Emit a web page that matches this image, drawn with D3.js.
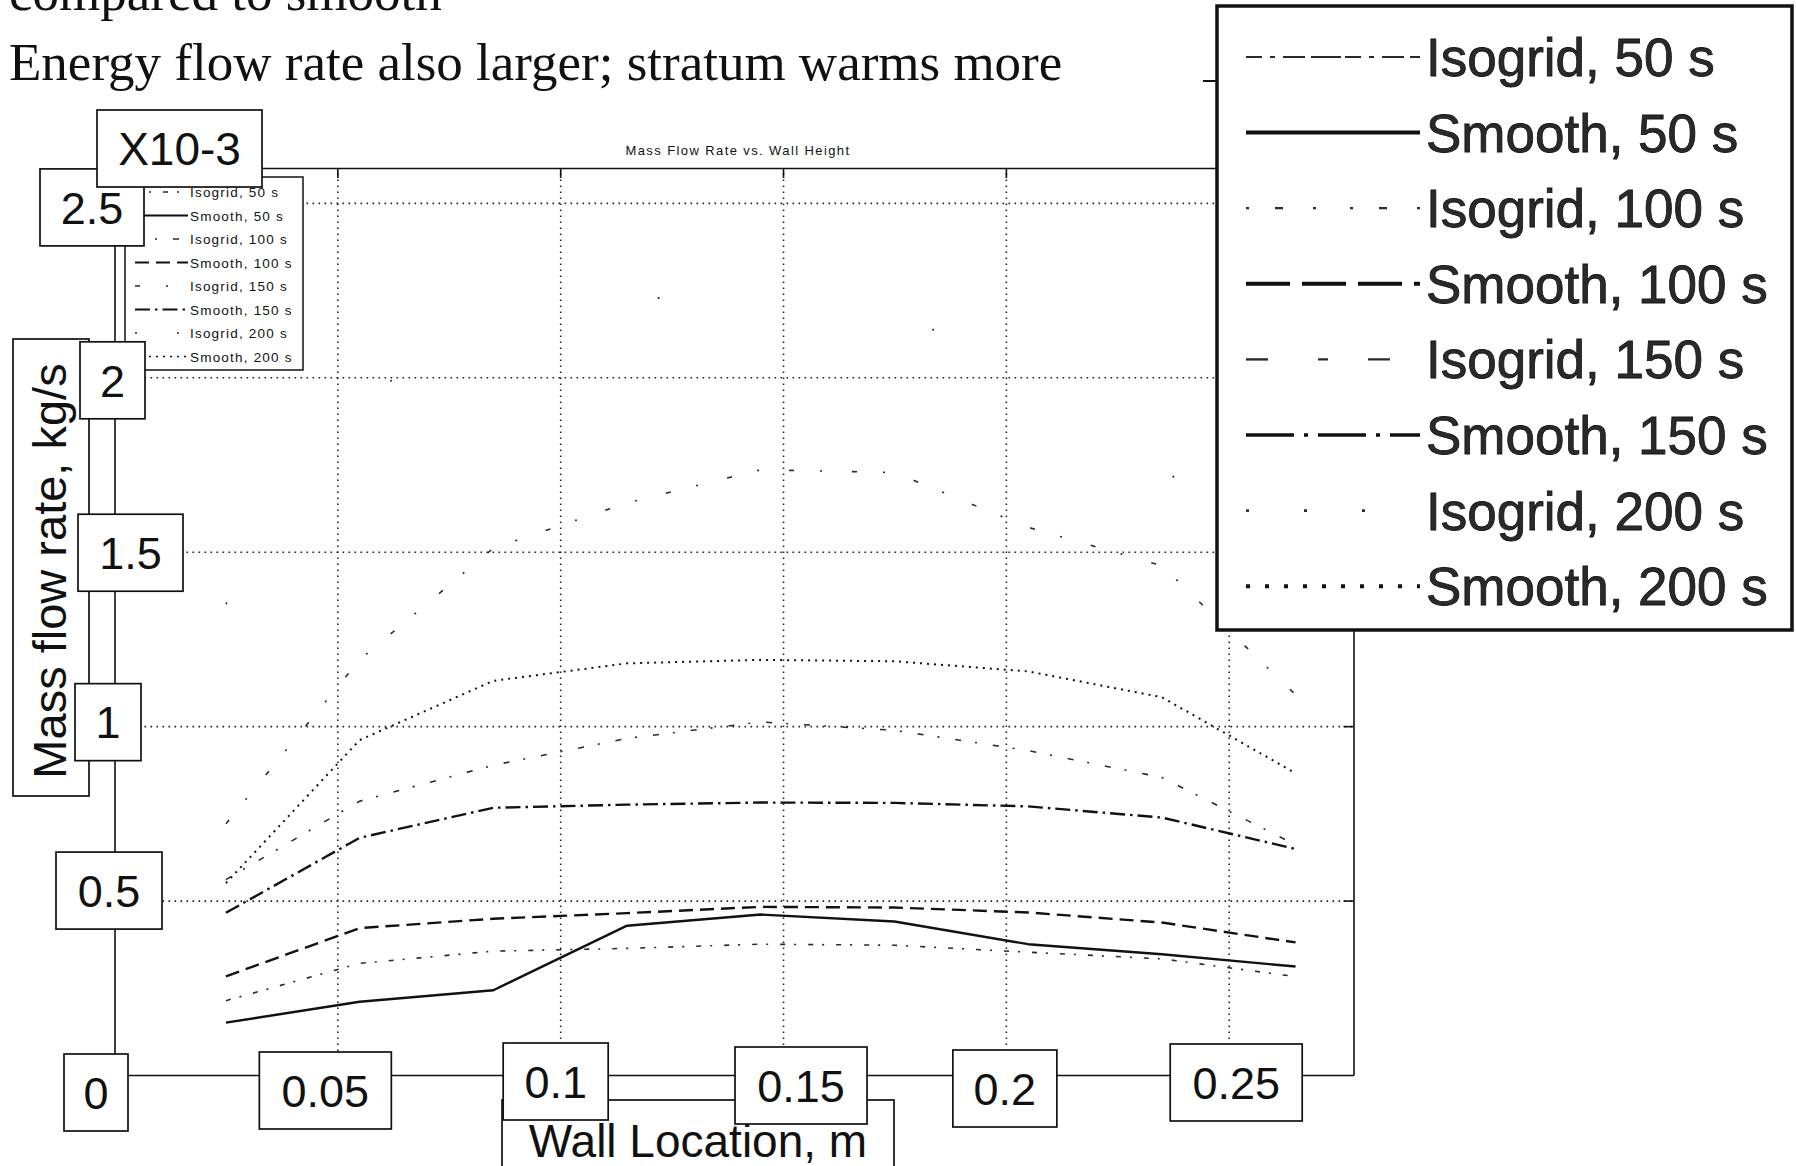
<!DOCTYPE html>
<html>
<head>
<meta charset="utf-8">
<script src="https://cdn.jsdelivr.net/npm/d3@7"></script>
<style>
  html, body { margin: 0; padding: 0; background: #fff; }
  svg { display: block; }
</style>
</head>
<body>
<svg id="chart" width="1796" height="1166"></svg>
<script>
// ---- data -------------------------------------------------------------
const wallLocation = [0.025, 0.055, 0.085, 0.115, 0.145, 0.175, 0.205, 0.235, 0.265];

const isogrid50  = [0.213, 0.320, 0.355, 0.363, 0.375, 0.372, 0.352, 0.333, 0.282];
const smooth50   = [0.150, 0.210, 0.243, 0.428, 0.460, 0.440, 0.375, 0.346, 0.311];
const isogrid100 = [0.560, 0.785, 0.888, 0.965, 1.012, 0.988, 0.930, 0.853, 0.660];
const smooth100  = [0.283, 0.421, 0.448, 0.464, 0.482, 0.480, 0.466, 0.437, 0.380];
const isogrid150 = [0.720, 1.190, 1.510, 1.640, 1.735, 1.727, 1.570, 1.460, 1.090];
const smooth150  = [0.465, 0.680, 0.766, 0.775, 0.781, 0.780, 0.770, 0.738, 0.648];
const isogrid200 = [1.350, 1.950, 2.120, 2.220, 2.250, 2.200, 1.980, 1.740, 1.450];
const smooth200  = [0.550, 0.960, 1.130, 1.180, 1.190, 1.186, 1.157, 1.083, 0.865];

const seriesNames = [
  "Isogrid, 50 s", "Smooth, 50 s", "Isogrid, 100 s", "Smooth, 100 s",
  "Isogrid, 150 s", "Smooth, 150 s", "Isogrid, 200 s", "Smooth, 200 s"
];
const seriesValues = [isogrid50, smooth50, isogrid100, smooth100,
                      isogrid150, smooth150, isogrid200, smooth200];

const xTicks = [0, 0.05, 0.1, 0.15, 0.2, 0.25];
const xTickLabels = ["0", "0.05", "0.1", "0.15", "0.2", "0.25"];
const yTicks = [0.5, 1, 1.5, 2, 2.5];
const yTickLabels = ["0.5", "1", "1.5", "2", "2.5"];
const yExponentLabel = "X10-3";

const titleText = "Mass Flow Rate vs. Wall Height";
const xTitle = "Wall Location, m";
const yTitle = "Mass flow rate, kg/s";
const headerLines = ["compared to smooth", "Energy flow rate also larger; stratum warms more"];

// ---- styles per series (plot stroke, legend stroke) -------------------
const seriesStyle = {
  "Isogrid, 50 s":  { w: 1.6, c: "#2a2a2a", dash: "5,9,2,12",   lw: 2.2, ldash: "16,8,5,8,22,6,30,4" },
  "Smooth, 50 s":   { w: 2.4, c: "#111",    dash: null,         lw: 4.0, ldash: null },
  "Isogrid, 100 s": { w: 1.6, c: "#2a2a2a", dash: "6,14,2,16",  lw: 2.2, ldash: "3,26,8,30,3,34" },
  "Smooth, 100 s":  { w: 2.4, c: "#111",    dash: "14,7",       lw: 4.0, ldash: "44,12" },
  "Isogrid, 150 s": { w: 1.6, c: "#2a2a2a", dash: "5,26,2,30",  lw: 2.4, ldash: "22,50,10,40" },
  "Smooth, 150 s":  { w: 2.4, c: "#111",    dash: "15,5,2.5,5", lw: 3.6, ldash: "48,10,4,10" },
  "Isogrid, 200 s": { w: 1.8, c: "#2a2a2a", dash: "1.8,280",    lw: 2.6, ldash: "3,55" },
  "Smooth, 200 s":  { w: 2.0, c: "#111",    dash: "2,5",        lw: 4.0, ldash: "4,15" }
};

const svg = d3.select("#chart");
const sans = "'Liberation Sans', Arial, sans-serif";
const serif = "'Liberation Serif', 'Times New Roman', serif";

// ---- scales -----------------------------------------------------------
const x = d3.scaleLinear().domain([0, 0.278]).range([114.5, 1353.5]);
const y = d3.scaleLinear().domain([0, 2.6]).range([1075, 168]);

// ---- header text ------------------------------------------------------
svg.append("text").attr("x", 9).attr("y", 10)
  .attr("font-family", serif).attr("font-size", 53).attr("fill", "#111")
  .text(headerLines[0]);
svg.append("text").attr("x", 9).attr("y", 80)
  .attr("font-family", serif).attr("font-size", 53).attr("fill", "#111")
  .text(headerLines[1]);

// ---- grid -------------------------------------------------------------
const gridStyle = sel => sel.selectAll("line")
  .attr("stroke", "#222").attr("stroke-width", 1.6).attr("stroke-dasharray", "1.6,4.4");

svg.append("g")
  .attr("transform", `translate(0,${y(0)})`)
  .call(d3.axisBottom(x).tickValues(xTicks.filter(v => v > 0))
    .tickSize(-(y(0) - y(2.6))).tickFormat(""))
  .call(g => g.select(".domain").remove())
  .call(gridStyle);

svg.append("g")
  .attr("transform", `translate(${x(0)},0)`)
  .call(d3.axisLeft(y).tickValues(yTicks)
    .tickSize(-(x(0.278) - x(0))).tickFormat(""))
  .call(g => g.select(".domain").remove())
  .call(gridStyle);

// ---- series -----------------------------------------------------------
const line = d3.line()
  .x((d, i) => x(wallLocation[i]))
  .y(d => y(d));

seriesNames.forEach((name, k) => {
  const s = seriesStyle[name];
  svg.append("path")
    .datum(seriesValues[k])
    .attr("d", line)
    .attr("fill", "none")
    .attr("stroke", s.c)
    .attr("stroke-width", s.w)
    .attr("stroke-dasharray", s.dash)
    .attr("stroke-linejoin", "round");
});

// ---- axes frame with inward ticks ------------------------------------
const frame = (axis, tx, ty) => svg.append("g")
  .attr("transform", `translate(${tx},${ty})`)
  .call(axis.tickSizeInner(-10).tickSizeOuter(0).tickFormat(""))
  .call(g => g.selectAll("path,line").attr("stroke", "#111").attr("stroke-width", 1.6));

frame(d3.axisBottom(x).tickValues(xTicks), 0, y(0));
frame(d3.axisTop(x).tickValues(xTicks), 0, y(2.6));
frame(d3.axisLeft(y).tickValues(yTicks), x(0), 0);
frame(d3.axisRight(y).tickValues(yTicks), x(0.278), 0);

// ---- plot title -------------------------------------------------------
svg.append("text")
  .attr("x", 738).attr("y", 155)
  .attr("text-anchor", "middle")
  .attr("font-family", sans).attr("font-size", 13).attr("letter-spacing", 1.4)
  .attr("fill", "#111")
  .text(titleText);

// ---- small in-plot legend --------------------------------------------
const smallLeg = svg.append("g");
smallLeg.append("rect")
  .attr("x", 125).attr("y", 177).attr("width", 178).attr("height", 193)
  .attr("fill", "#fff").attr("stroke", "#111").attr("stroke-width", 1.5);
seriesNames.forEach((name, k) => {
  const s = seriesStyle[name];
  const cy = 192 + k * 23.5;
  smallLeg.append("line")
    .attr("x1", 135).attr("x2", 188).attr("y1", cy).attr("y2", cy)
    .attr("stroke", s.c).attr("stroke-width", s.w * 0.8)
    .attr("stroke-dasharray", name === "Isogrid, 200 s" ? "2,40" : s.dash);
  smallLeg.append("text")
    .attr("x", 190).attr("y", cy + 5)
    .attr("font-family", sans).attr("font-size", 13.5).attr("letter-spacing", 1.2)
    .attr("fill", "#111")
    .text(name);
});

// ---- boxed labels -----------------------------------------------------
function labelBox(x0, y0, w, h, txt, size) {
  svg.append("rect")
    .attr("x", x0).attr("y", y0).attr("width", w).attr("height", h)
    .attr("fill", "#fff").attr("stroke", "#111").attr("stroke-width", 1.7);
  svg.append("text")
    .attr("x", x0 + w / 2).attr("y", y0 + h / 2 + size * 0.36)
    .attr("text-anchor", "middle")
    .attr("font-family", sans).attr("font-size", size).attr("fill", "#111")
    .text(txt);
}

// y-axis title box
svg.append("rect")
  .attr("x", 13).attr("y", 339).attr("width", 76).attr("height", 457)
  .attr("fill", "#fff").attr("stroke", "#111").attr("stroke-width", 1.7);
svg.append("text")
  .attr("transform", "translate(66,571) rotate(-90)")
  .attr("text-anchor", "middle")
  .attr("font-family", sans).attr("font-size", 47).attr("fill", "#111")
  .text(yTitle);

// x-axis title box (runs off the bottom edge)
svg.append("rect")
  .attr("x", 502).attr("y", 1100).attr("width", 392).attr("height", 90)
  .attr("fill", "#fff").attr("stroke", "#111").attr("stroke-width", 1.7);
svg.append("text")
  .attr("x", 698).attr("y", 1157)
  .attr("text-anchor", "middle")
  .attr("font-family", sans).attr("font-size", 46).attr("fill", "#111")
  .text(xTitle);

// y tick label boxes: [left, right, vertical offset of centre]
const yBoxLayout = [
  [56, 162, -10], [75, 141, -4], [78, 183, 1], [80, 145, 3], [40, 144, 4.5]
];
yTicks.forEach((v, i) => {
  const [l, r, dy] = yBoxLayout[i];
  const cy = y(v) + dy;
  labelBox(l, cy - 38.5, r - l, 77, yTickLabels[i], 45);
});

// exponent box
labelBox(97, 110, 165, 77, yExponentLabel, 46);

// x tick label boxes: [horizontal offset of centre, top, width]
const xBoxLayout = [
  [-18.5, 1054, 64], [-12, 1052, 132], [-4.5, 1043, 105],
  [18, 1047, 132], [-1, 1050, 104], [7.5, 1044, 132]
];
xTicks.forEach((v, i) => {
  const [dx, top, w] = xBoxLayout[i];
  const cx = x(v) + dx;
  labelBox(cx - w / 2, top, w, 77, xTickLabels[i], 45);
});

// ---- enlarged legend, upper right ------------------------------------
const bigLeg = svg.append("g");
bigLeg.append("rect")
  .attr("x", 1217).attr("y", 6).attr("width", 575).attr("height", 624)
  .attr("fill", "#fff").attr("stroke", "#111").attr("stroke-width", 3.5);
svg.append("line")
  .attr("x1", 1203).attr("x2", 1216).attr("y1", 81).attr("y2", 81)
  .attr("stroke", "#111").attr("stroke-width", 2);

seriesNames.forEach((name, k) => {
  const s = seriesStyle[name];
  const cy = 57 + k * 75.6;
  bigLeg.append("line")
    .attr("x1", 1246).attr("x2", 1420).attr("y1", cy).attr("y2", cy)
    .attr("stroke", s.c).attr("stroke-width", s.lw)
    .attr("stroke-dasharray", s.ldash);
  bigLeg.append("text")
    .attr("x", 1426).attr("y", cy + 19)
    .attr("font-family", sans).attr("font-size", 53)
    .attr("fill", "#2a2a2a").attr("stroke", "#111").attr("stroke-width", 0.8)
    .text(name);
});
</script>
</body>
</html>
